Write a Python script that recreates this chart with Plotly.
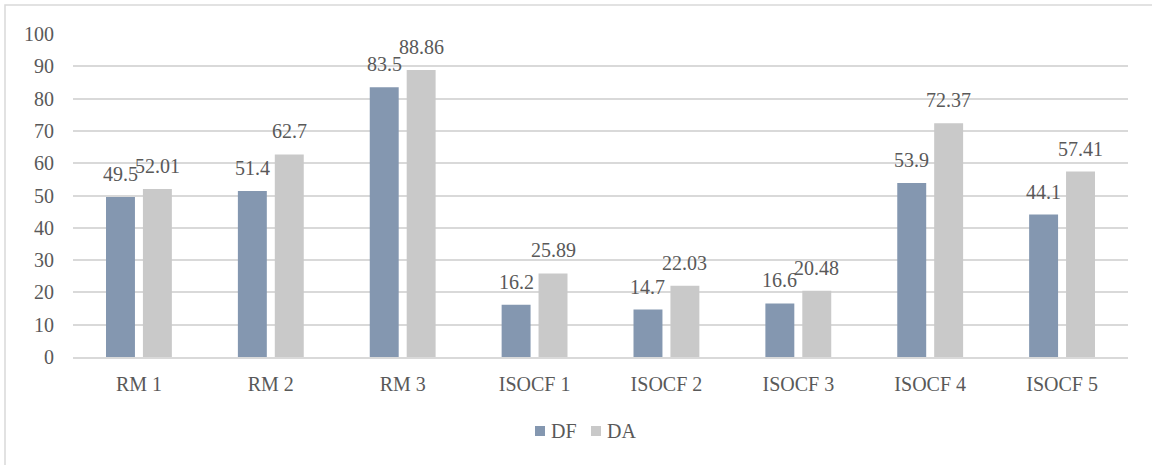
import plotly.graph_objects as go

categories = ["RM 1", "RM 2", "RM 3", "ISOCF 1", "ISOCF 2", "ISOCF 3", "ISOCF 4", "ISOCF 5"]
df_values = [49.5, 51.4, 83.5, 16.2, 14.7, 16.6, 53.9, 44.1]
da_values = [52.01, 62.7, 88.86, 25.89, 22.03, 20.48, 72.37, 57.41]
y_ticks = list(range(0, 101, 10))

FONT = "Liberation Serif"
TEXT_COLOR = "#595959"
GRID = "#D9D9D9"

L, R, T, B = 73, 24, 34, 108
W, H = 1152, 465
pw, ph = W - L - R, H - T - B
BAR_OFFSET = 18.5  # px from category centre to each bar centre


def px_x(x):
    return (x - L) / pw


def px_y(y):
    return (H - B - y) / ph


series = [("DF", df_values, "#8497B0", -BAR_OFFSET, 535),
          ("DA", da_values, "#C9C9C9", BAR_OFFSET, 591)]

fig = go.Figure()
annotations = []
shapes = [dict(type="rect", xref="paper", yref="paper",
               x0=px_x(5), x1=px_x(1160), y0=px_y(475), y1=px_y(5),
               line=dict(color=GRID, width=1.5), fillcolor="rgba(0,0,0,0)", layer="below")]

for name, vals, color, shift, legend_x in series:
    fig.add_trace(go.Bar(name=name, x=categories, y=vals, marker_color=color,
                         marker_line_width=0, showlegend=False))
    # value labels above the bars
    for cat, v in zip(categories, vals):
        annotations.append(dict(x=cat, y=v, xref="x", yref="y", text=f"{v:g}", showarrow=False,
                                xshift=shift, yanchor="bottom", yshift=10,
                                font=dict(family=FONT, size=20, color=TEXT_COLOR)))
    # legend entry: colour swatch + series name
    shapes.append(dict(type="rect", xref="paper", yref="paper",
                       x0=px_x(legend_x), x1=px_x(legend_x + 10), y0=px_y(436), y1=px_y(426),
                       line=dict(width=0), fillcolor=color))
    annotations.append(dict(x=px_x(legend_x + 14), y=px_y(431), xref="paper", yref="paper",
                            text=name, showarrow=False, xanchor="left", yanchor="middle",
                            font=dict(family=FONT, size=20, color=TEXT_COLOR)))

fig.update_layout(
    width=W, height=H,
    margin=dict(l=L, r=R, t=T, b=B),
    paper_bgcolor="white", plot_bgcolor="white",
    barmode="group", bargap=0.44, bargroupgap=0.216,
    font=dict(family=FONT, size=20, color=TEXT_COLOR),
    showlegend=False,
    annotations=annotations,
    shapes=shapes,
)
fig.update_xaxes(showgrid=False, showline=True, linecolor=GRID, linewidth=1.5,
                 tickfont=dict(family=FONT, size=20, color=TEXT_COLOR), ticklabelstandoff=8)
fig.update_yaxes(range=[0, 100], tickvals=y_ticks, showgrid=True, gridcolor=GRID, gridwidth=1.5,
                 zeroline=False, showline=False, ticklabelstandoff=18,
                 tickfont=dict(family=FONT, size=20, color=TEXT_COLOR))

fig.write_html("out.html")
